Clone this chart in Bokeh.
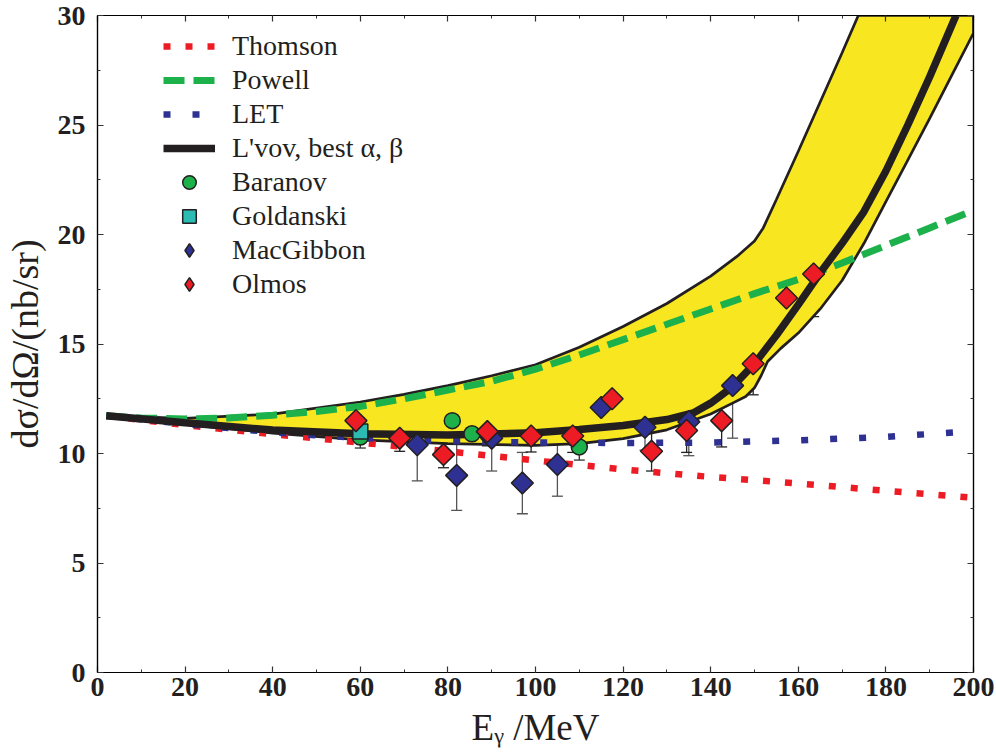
from bokeh.plotting import figure
from bokeh.models import (Range1d, LinearAxis, Legend, LegendItem, Whisker, TeeHead,
                          ColumnDataSource, SingleIntervalTicker)
from bokeh.embed import file_html
from bokeh.resources import INLINE
import math

# ---------------- data ----------------
thomson_e = [2, 20, 40, 60, 80, 100, 120, 140, 160, 180, 200]
thomson_cs = [11.72, 11.3, 10.88, 10.5, 10.1, 9.68, 9.27, 8.93, 8.63, 8.3, 7.98]

powell_e = [2, 10, 20, 30, 40, 50, 60, 70, 80, 90, 100, 110, 120, 130, 140, 150, 160, 170, 180, 190, 200]
powell_cs = [11.72, 11.62, 11.58, 11.62, 11.75, 11.92, 12.15, 12.5, 12.9, 13.3, 13.85, 14.5, 15.2,
             15.9, 16.6, 17.3, 17.95, 18.7, 19.5, 20.3, 21.1]

let_e = [2, 20, 40, 60, 80, 100, 120, 140, 160, 180, 200]
let_cs = [11.72, 11.35, 10.97, 10.7, 10.57, 10.5, 10.48, 10.5, 10.6, 10.76, 11.02]

lvov_e = [2, 20, 40, 60, 80, 100, 110, 120, 130, 136, 140, 145, 150, 155, 160, 165, 170, 175,
          180, 185, 190, 196]
lvov_cs = [11.72, 11.4, 11.07, 10.9, 10.84, 10.95, 11.1, 11.28, 11.55, 11.85, 12.3, 13.05, 14.1,
           15.4, 16.8, 18.25, 19.6, 21.05, 22.9, 25.0, 27.2, 30.0]

band_upper_e = [2, 20, 40, 60, 70, 80, 90, 100, 110, 120, 130, 140, 146, 150, 152, 155, 160, 165,
                170, 173.7, 200]
band_upper_cs = [11.72, 11.6, 11.8, 12.35, 12.7, 13.1, 13.55, 14.05, 14.85, 15.8, 16.85, 18.1, 19.0,
                 19.7, 20.3, 21.6, 23.8, 26.05, 28.3, 30.0, 30.0]

band_lower_e = [2, 20, 40, 60, 80, 100, 110, 120, 130, 140, 145, 148, 150, 151.5, 153, 156, 160,
                165, 170, 175, 180, 185, 190, 195, 200]
band_lower_cs = [11.72, 11.33, 10.93, 10.62, 10.45, 10.37, 10.45, 10.68, 11.08, 11.8, 12.3, 12.6,
                 13.0, 13.55, 14.2, 14.8, 15.5, 16.6, 17.9, 19.6, 21.5, 23.4, 25.3, 27.25, 29.2]

baranov_e = [60, 81, 85.5, 110]
baranov_cs = [10.75, 11.5, 10.9, 10.3]
baranov_err = [0.5, 0.6, 0.4, 0.6]

goldanski_e = [60]
goldanski_cs = [11.0]

macgibbon_e = [73, 82, 90, 97, 105, 115, 125, 135, 145]
macgibbon_cs = [10.4, 9.0, 10.7, 8.65, 9.5, 12.1, 11.2, 11.45, 13.1]
macgibbon_err = [1.65, 1.6, 1.5, 1.4, 1.45, 1.55, 1.05, 1.55, 2.4]

olmos_e = [59, 69, 79, 89, 99, 108.5, 117.5, 126.5, 134.5, 142.5, 149.7, 157.3, 163.5]
olmos_cs = [11.5, 10.7, 9.95, 11.0, 10.8, 10.8, 12.5, 10.1, 11.05, 11.5, 14.1, 17.1, 18.2]
olmos_err = [0.6, 0.6, 0.6, 0.65, 0.73, 0.75, 0.9, 0.9, 1.0, 1.2, 1.42, 1.75, 1.95]

x_label = "E\u1d67 /MeV"
y_label = "d\u03c3/d\u03a9/(nb/sr)"
legend_labels = ["Thomson", "Powell", "LET", "L'vov, best \u03b1, \u03b2",
                 "Baranov", "Goldanski", "MacGibbon", "Olmos"]

# ---------------- styles ----------------
RED = "#ED1C24"
GREEN = "#1DB14B"
BLUE = "#2E3192"
CYAN = "#2BBBB3"
YELLOW = "#F8E620"
BLACK = "#231F20"
FONT = "Liberation Serif"

p = figure(width=996, height=755, output_backend="svg", toolbar_location=None,
           x_range=Range1d(0, 200), y_range=Range1d(0, 30),
           x_axis_location=None, y_axis_location=None,
           min_border_left=97, min_border_right=23, min_border_top=15, min_border_bottom=83)
p.grid.grid_line_color = None
p.outline_line_color = "black"
p.outline_line_width = 1.2
p.background_fill_color = "white"
p.border_fill_color = "white"


def make_axis(kind, show):
    if kind == "x":
        ax = LinearAxis(ticker=SingleIntervalTicker(interval=20, num_minor_ticks=2))
    else:
        ax = LinearAxis(ticker=SingleIntervalTicker(interval=5, num_minor_ticks=2))
    ax.axis_line_color = "black"
    ax.axis_line_width = 1.2
    ax.major_tick_in = 6
    ax.major_tick_out = 0
    ax.minor_tick_in = 3
    ax.minor_tick_out = 0
    ax.major_tick_line_color = "#333333"
    ax.minor_tick_line_color = "#333333"
    ax.major_tick_line_width = 1.2
    ax.minor_tick_line_width = 1.0
    ax.major_label_text_font = FONT
    ax.major_label_text_font_style = "bold"
    ax.major_label_text_color = "#231F20"
    if show:
        ax.major_label_text_font_size = "28px"
    else:
        ax.major_label_text_font_size = "1px"
        ax.major_label_text_color = None
        ax.major_label_standoff = 0
    return ax


xb = make_axis("x", True)
xb.major_label_standoff = 5
xb.axis_label = x_label
xb.axis_label_text_font = FONT
xb.axis_label_text_font_style = "normal"
xb.axis_label_text_font_size = "37px"
xb.axis_label_text_color = "#231F20"
xb.axis_label_standoff = 8
p.add_layout(xb, "below")
yl = make_axis("y", True)
yl.major_label_standoff = 12
yl.axis_label = y_label
yl.axis_label_text_font = FONT
yl.axis_label_text_font_style = "normal"
yl.axis_label_text_font_size = "38px"
yl.axis_label_text_color = "#231F20"
yl.axis_label_standoff = 9
p.add_layout(yl, "left")
p.add_layout(make_axis("x", False), "above")
p.add_layout(make_axis("y", False), "right")

# band
band_x = band_upper_e + band_lower_e[::-1]
band_y = band_upper_cs + band_lower_cs[::-1]
p.patch(band_x, band_y, fill_color=YELLOW, line_color=BLACK, line_width=2.7)

r_thomson = p.line(thomson_e, thomson_cs, line_color=RED, line_width=6.5, line_dash="7 15")
r_let = p.line(let_e, let_cs, line_color=BLUE, line_width=6.5, line_dash="7 22")
r_powell = p.line(powell_e, powell_cs, line_color=GREEN, line_width=7, line_dash="21 9")
r_lvov = p.line(lvov_e, lvov_cs, line_color=BLACK, line_width=7.5)


def add_errors(xs, ys, errs, color):
    src = ColumnDataSource(dict(base=xs,
                                upper=[y + e for y, e in zip(ys, errs)],
                                lower=[y - e for y, e in zip(ys, errs)]))
    w = Whisker(source=src, base="base", upper="upper", lower="lower", dimension="height",
                line_color=color, line_width=1.3,
                upper_head=TeeHead(size=11, line_color=color, line_width=1.3),
                lower_head=TeeHead(size=11, line_color=color, line_width=1.3))
    p.add_layout(w)


add_errors(baranov_e, baranov_cs, baranov_err, "#333333")
add_errors(macgibbon_e, macgibbon_cs, macgibbon_err, "#555555")
add_errors(olmos_e, olmos_cs, olmos_err, "#222222")

# diamond-shaped swatches for the legend (the legend ignores marker angle);
# they sit underneath the rotated squares and are hidden by them.
leg_mac = p.scatter(macgibbon_e, macgibbon_cs, marker="diamond", size=12, fill_color=BLUE,
                    line_color=BLACK, line_width=1.5)
leg_olm = p.scatter(olmos_e, olmos_cs, marker="diamond", size=12, fill_color=RED,
                    line_color=BLACK, line_width=1.5)

r_bar = p.scatter(baranov_e, baranov_cs, marker="circle", size=16, fill_color=GREEN,
                  line_color=BLACK, line_width=1.5)
r_gol = p.scatter(goldanski_e, goldanski_cs, marker="square", size=15, fill_color=CYAN,
                  line_color=BLACK, line_width=1.5)
r_mac = p.scatter(macgibbon_e, macgibbon_cs, marker="square", size=15.5, angle=math.pi / 4,
                  fill_color=BLUE, line_color=BLACK, line_width=1.5)
r_olm = p.scatter(olmos_e, olmos_cs, marker="square", size=15.5, angle=math.pi / 4,
                  fill_color=RED, line_color=BLACK, line_width=1.5)

renderers = [r_thomson, r_powell, r_let, r_lvov, r_bar, r_gol, leg_mac, leg_olm]
legend = Legend(items=[LegendItem(label=lab, renderers=[r]) for lab, r in zip(legend_labels, renderers)],
                location=(66, 371), orientation="vertical", padding=0, margin=0, spacing=0,
                glyph_width=52, glyph_height=34, label_height=34, label_standoff=17,
                label_text_font=FONT, label_text_font_size="28px", label_text_color="#231F20",
                background_fill_alpha=0, border_line_color=None)
p.add_layout(legend, "center")

open("out.html", "w").write(file_html(p, INLINE))
